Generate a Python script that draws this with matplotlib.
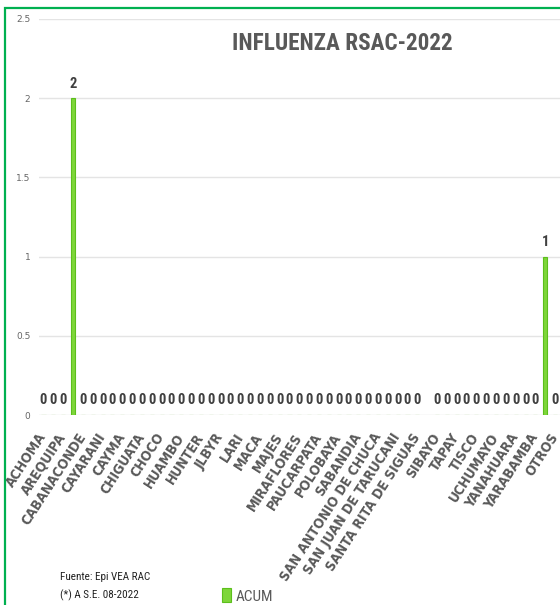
import numpy as np
import matplotlib
matplotlib.use("Agg")
import matplotlib.pyplot as plt
from matplotlib import font_manager
from matplotlib.patches import Rectangle

# distritos visibles en el eje (Excel muestra una etiqueta de cada dos)
etiquetas = ['ACHOMA', 'AREQUIPA', 'CABANACONDE', 'CAYARANI', 'CAYMA',
             'CHIGUATA', 'CHOCO', 'HUAMBO', 'HUNTER', 'JLBYR', 'LARI',
             'MACA', 'MAJES', 'MIRAFLORES', 'PAUCARPATA', 'POLOBAYA',
             'SABANDIA', 'SAN ANTONIO DE CHUCA', 'SAN JUAN DE TARUCANI',
             'SANTA RITA DE SIGUAS', 'SIBAYO', 'TAPAY', 'TISCO',
             'UCHUMAYO', 'YANAHUARA', 'YARABAMBA', 'OTROS']

# casos acumulados por distrito (None = sin dato)
casos = [0, 0, 0, 2, 0, 0, 0, 0, 0, 0,
         0, 0, 0, 0, 0, 0, 0, 0, 0, 0,
         0, 0, 0, 0, 0, 0, 0, 0, 0, 0,
         0, 0, 0, 0, 0, 0, 0, 0, 0, None,
         0, 0, 0, 0, 0, 0, 0, 0, 0, 0,
         0, 1, 0]

titulo = 'INFLUENZA RSAC-2022'
fuente = ['Fuente: Epi VEA RAC', '(*) A S.E. 08-2022']

# buscar una fuente estrecha tipo Arial Narrow
nombres = {f.name for f in font_manager.fontManager.ttflist}
narrow = 'Liberation Sans'
for nom in ['Liberation Sans Narrow', 'Roboto Condensed', 'Asap Condensed',
            'Barlow Semi Condensed']:
    if nom in nombres:
        narrow = nom
        break

# DejaVu Sans Condensed (parecida a Verdana estirada) si esta instalada
dv_cond = any(f.name == 'DejaVu Sans' and 'Condensed' in f.fname
              for f in font_manager.fontManager.ttflist)
eje_stretch = 'condensed' if dv_cond else 'normal'
eje_size = 10 if dv_cond else 9.3

gris = '#595959'
verde = '#7ed63a'

fig = plt.figure(figsize=(5.6, 6.05), dpi=100, facecolor='white')
ax = fig.add_axes([0.069, 0.314, 0.931, 0.6546])

x = np.arange(len(casos))
alturas = [np.nan if v is None else v for v in casos]
barras = ax.bar(x, alturas, width=0.42, color=verde, edgecolor='#5cbf1c',
                linewidth=0.8, zorder=3, label='ACUM')

# etiquetas de datos
for rect, v in zip(barras, casos):
    if v is None:
        continue
    ax.annotate(str(v), xy=(rect.get_x() + rect.get_width() / 2, v),
                xytext=(0, 5.5), textcoords='offset points',
                ha='center', va='bottom', fontsize=10.5, fontweight='bold',
                color='#404040', family=narrow)

ax.set_xlim(-0.5, len(casos) - 0.5)
ax.set_ylim(0, 2.5)
ax.set_yticks([0, 0.5, 1, 1.5, 2, 2.5])
ax.set_yticklabels(['0', '0.5', '1', '1.5', '2', '2.5'])
ax.tick_params(axis='y', length=0, labelsize=6.5, labelcolor='#666666', pad=6)

ax.set_xticks(x[::2])
ax.set_xticklabels(etiquetas, rotation=57, ha='right', va='center',
                   rotation_mode='anchor', fontsize=eje_size, fontweight='bold',
                   color=gris, family='DejaVu Sans', fontstretch=eje_stretch)
ax.tick_params(axis='x', length=0, pad=14)

ax.grid(axis='y', color='#e4e4e4', linewidth=1, zorder=0)
for s in ax.spines.values():
    s.set_visible(False)

tit = fig.text(342 / 560, 1 - 43 / 605, titulo, ha='center', va='center',
               fontsize=22, fontweight='bold', color=gris, family=narrow)
# ajustar el titulo al ancho del original (~220 px)
fig.canvas.draw()
ancho = tit.get_window_extent().width
tit.set_fontsize(22 * 220 / ancho)

fig.text(60 / 560, 1 - 577 / 605, fuente[0], ha='left', va='center',
         fontsize=8, color='#222222', family=narrow)
fig.text(60 / 560, 1 - 595 / 605, fuente[1], ha='left', va='center',
         fontsize=8, color='#222222', family=narrow)

leg = fig.legend(handles=[barras], labels=['ACUM'], loc='center left',
                 bbox_to_anchor=(216 / 560, 1 - 596 / 605), frameon=False,
                 handlelength=0.6, handleheight=1.0, handletextpad=0.3,
                 borderaxespad=0, prop={'family': narrow, 'size': 11})
for t in leg.get_texts():
    t.set_color(gris)

# marco verde
fig.add_artist(Rectangle((5 / 560, -0.1), 1.0, 1 - 8 / 605 + 0.1,
                         transform=fig.transFigure, fill=False,
                         edgecolor='#00b050', linewidth=1.6))

fig.savefig('out.png', dpi=100, facecolor='white')
